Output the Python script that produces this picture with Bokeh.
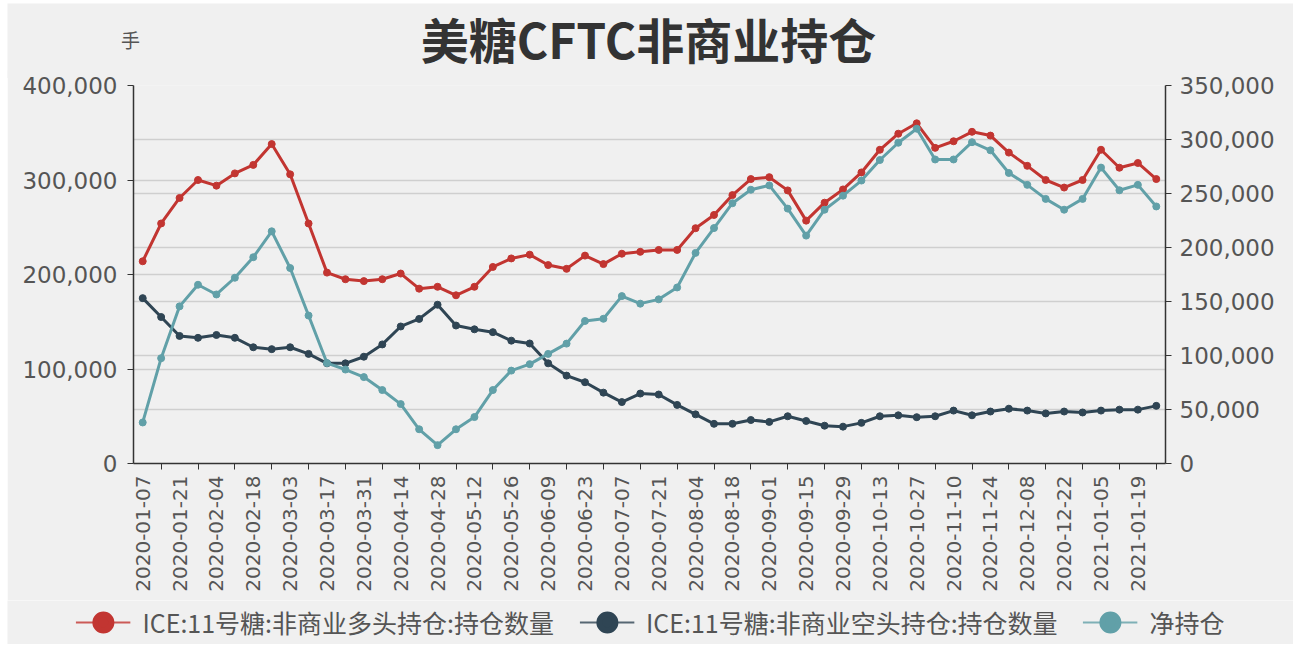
import math
from bokeh.plotting import figure
from bokeh.core.properties import value
from bokeh.models import (Range1d, LinearAxis, FixedTicker, NumeralTickFormatter,
                          Legend, LegendItem)
from bokeh.embed import file_html
from bokeh.resources import INLINE

dates = [
    "2020-01-07", "2020-01-14", "2020-01-21", "2020-01-28", "2020-02-04", "2020-02-11",
    "2020-02-18", "2020-02-25", "2020-03-03", "2020-03-10", "2020-03-17", "2020-03-24",
    "2020-03-31", "2020-04-07", "2020-04-14", "2020-04-21", "2020-04-28", "2020-05-05",
    "2020-05-12", "2020-05-19", "2020-05-26", "2020-06-02", "2020-06-09", "2020-06-16",
    "2020-06-23", "2020-06-30", "2020-07-07", "2020-07-14", "2020-07-21", "2020-07-28",
    "2020-08-04", "2020-08-11", "2020-08-18", "2020-08-25", "2020-09-01", "2020-09-08",
    "2020-09-15", "2020-09-22", "2020-09-29", "2020-10-06", "2020-10-13", "2020-10-20",
    "2020-10-27", "2020-11-03", "2020-11-10", "2020-11-17", "2020-11-24", "2020-12-01",
    "2020-12-08", "2020-12-15", "2020-12-22", "2020-12-29", "2021-01-05", "2021-01-12",
    "2021-01-19", "2021-01-26",
]

long_pos = [214000, 254000, 281000, 300000, 294000, 307000, 316000, 338000, 306000, 254000,
            202000, 195000, 193000, 195000, 201000, 185000, 187000, 178000, 187000, 208000,
            217000, 221000, 210000, 206000, 220000, 211000, 222000, 224000, 226000, 226000,
            249000, 263000, 284000, 301000, 303000, 289000, 257000, 276000, 290000, 308000,
            332000, 349000, 360000, 334000, 341000, 351000, 347000, 329000, 315000, 300000,
            292000, 300000, 332000, 313000, 318000, 301000]

short_pos = [175000, 155000, 135000, 133000, 136000, 133000, 123000, 121000, 123000, 116000,
             106000, 106000, 113000, 126000, 145000, 153000, 168000, 146000, 142000, 139000,
             130000, 127000, 106000, 93000, 86000, 75000, 65000, 74000, 73000, 62000,
             52000, 42000, 42000, 46000, 44000, 50000, 45000, 40000, 39000, 43000,
             50000, 51000, 49000, 50000, 56000, 51000, 55000, 58000, 56000, 53000,
             55000, 54000, 56000, 57000, 57000, 61000]

net_pos = [38000, 97500, 145500, 165500, 156500, 172000, 191000, 215000, 181000, 137000,
           93000, 87000, 80000, 68000, 55000, 31700, 17000, 31700, 43000, 68000,
           86000, 92000, 101500, 111000, 132000, 134000, 155000, 148000, 152000, 163000,
           195000, 218000, 241000, 253500, 257500, 236000, 211000, 235000, 248000, 262000,
           281000, 297000, 310000, 281500, 281500, 297500, 290000, 269000, 258000, 245000,
           235000, 245000, 274000, 253000, 258000, 238000]

series_names = ["ICE:11号糖:非商业多头持仓:持仓数量", "ICE:11号糖:非商业空头持仓:持仓数量", "净持仓"]
title_text = "美糖CFTC非商业持仓"
unit_text = "手"
left_ticks = [0, 100000, 200000, 300000, 400000]
right_ticks = [0, 50000, 100000, 150000, 200000, 250000, 300000, 350000]

RED, NAVY, TEAL = "#c23531", "#2f4554", "#61a0a8"
BG = "#f0f0f0"
AXIS_C = "#333333"
LABEL_C = "#555555"
NUM_FONT = "DejaVu Sans"
CJK_FONT = "Noto Sans CJK SC"

n = len(dates)
xs = list(range(n))
LEFT_MAX, RIGHT_MAX = 400000, 350000

W = 1286
HEAD_H, MAIN_H, LEG_H = 75, 530, 44
NAN = float("nan")


def blank_fig(h, margin):
    f = figure(width=W, height=h, output_backend="svg", toolbar_location=None,
               x_range=Range1d(0, W), y_range=Range1d(0, h),
               x_axis_type=None, y_axis_type=None, min_border=0, margin=margin,
               background_fill_color=BG, border_fill_color=BG, outline_line_color=None)
    f.grid.visible = False
    return f


# ---- header: title and unit -------------------------------------------------
head = blank_fig(HEAD_H, (3, 0, 0, 7))
head.text(x=[641], y=[41], text=[title_text], text_align="center", text_baseline="middle",
          text_font=value(CJK_FONT), text_font_size="48px", text_font_style="bold",
          text_color="#333333")
head.text(x=[123], y=[39], text=[unit_text], text_align="center", text_baseline="middle",
          text_font=value(CJK_FONT), text_font_size="19px", text_color=LABEL_C)

# ---- main chart ---------------------------------------------------------------
p = figure(width=W, height=MAIN_H, output_backend="svg", toolbar_location=None,
           x_range=Range1d(-0.5, n - 0.5), y_range=Range1d(0, LEFT_MAX),
           min_border_left=126, min_border_right=128, min_border_top=15, min_border_bottom=137,
           margin=(-8, 0, 0, 7),
           background_fill_color=BG, border_fill_color=BG, outline_line_color=None)
p.extra_y_ranges = {"right": Range1d(0, RIGHT_MAX)}

p.xgrid.visible = False
grid_ticks = sorted(set(left_ticks + [t * LEFT_MAX / RIGHT_MAX for t in right_ticks]))
p.ygrid.ticker = FixedTicker(ticks=grid_ticks)
p.ygrid.grid_line_color = "#cfcfcf"
p.ygrid.grid_line_width = 1.5


def style_y(ax, standoff):
    ax.formatter = NumeralTickFormatter(format="0,0")
    ax.major_label_text_font = NUM_FONT
    ax.major_label_text_font_size = "23px"
    ax.major_label_text_color = LABEL_C
    ax.axis_line_color = AXIS_C
    ax.axis_line_width = 1.5
    ax.major_tick_line_color = AXIS_C
    ax.major_tick_out = 6
    ax.major_tick_in = 0
    ax.minor_tick_line_color = None
    ax.major_label_standoff = standoff


ya = p.yaxis[0]
ya.ticker = FixedTicker(ticks=left_ticks)
style_y(ya, 10)

ra = LinearAxis(y_range_name="right", ticker=FixedTicker(ticks=right_ticks))
style_y(ra, 8)
p.add_layout(ra, "right")

xa = p.xaxis[0]
label_idx = list(range(0, n, 2))
tick_idx = list(range(1, n, 2))
xa.ticker = FixedTicker(ticks=label_idx, minor_ticks=tick_idx)
xa.major_label_overrides = {i: dates[i] for i in label_idx}
xa.major_label_orientation = math.pi / 2
xa.major_label_text_font = NUM_FONT
xa.major_label_text_font_size = "20px"
xa.major_label_text_color = LABEL_C
xa.major_tick_line_color = None
xa.major_tick_out = 6
xa.major_tick_in = 0
xa.minor_tick_line_color = AXIS_C
xa.minor_tick_out = 6
xa.minor_tick_in = 0
xa.axis_line_color = AXIS_C
xa.axis_line_width = 1.5
xa.major_label_standoff = 6

for ys, color, rname in [(long_pos, RED, None), (short_pos, NAVY, None), (net_pos, TEAL, "right")]:
    kw = {} if rname is None else {"y_range_name": rname}
    p.line(xs, ys, line_color=color, line_width=3, **kw)
    p.scatter(xs, ys, size=7, fill_color=color, line_color=color, **kw)

# ---- legend strip (legend-only renderers hold no drawable points) -----------------
leg = blank_fig(LEG_H, (0, 0, 0, 7))
items = []
for name, color in zip(series_names, [RED, NAVY, TEAL]):
    l1 = leg.line(x=[NAN], y=[NAN], line_color=color, line_width=2, line_alpha=0.8)
    l2 = leg.scatter(x=[NAN], y=[NAN], size=22, fill_color=color, line_color=color,
                     line_width=6)
    items.append(LegendItem(label=name, renderers=[l1, l2]))
legend = Legend(items=items, orientation="horizontal", location="center",
                label_text_font=CJK_FONT, label_text_font_size="25px",
                label_text_color=LABEL_C, glyph_width=55, glyph_height=40,
                label_standoff=12, spacing=25, padding=0, margin=0,
                background_fill_alpha=0, border_line_color=None)
leg.add_layout(legend, "center")

open("out.html", "w").write(file_html([head, p, leg], INLINE))
